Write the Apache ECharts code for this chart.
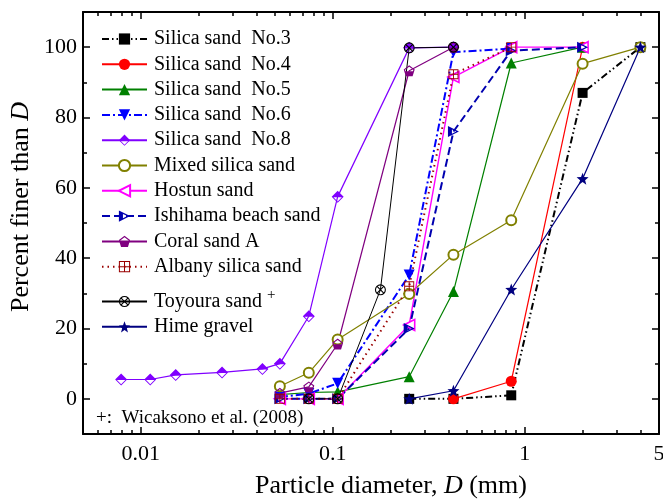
<!DOCTYPE html>
<html><head><meta charset="utf-8">
<script src="https://cdn.jsdelivr.net/npm/echarts@6/dist/echarts.min.js"></script>
<style>html,body{margin:0;padding:0;background:#fff}#c{width:663px;height:500px}</style>
</head><body><div id="c"></div>
<script>
// ---------- DATA ----------
const seriesNames = ['Silica sand  No.3','Silica sand  No.4','Silica sand  No.5','Silica sand  No.6','Silica sand  No.8',
  'Mixed silica sand','Hostun sand','Ishihama beach sand','Coral sand A','Albany silica sand','Toyoura sand','Hime gravel'];
const dNo3 = [0.25, 0.425, 0.85, 2, 4];
const pNo3 = [0, 0, 1, 87, 100];
const dNo4 = [0.425, 0.85, 2];
const pNo4 = [0, 5, 100];
const dNo5 = [0.053, 0.075, 0.106, 0.25, 0.425, 0.85, 2];
const pNo5 = [1.2, 1.8, 2, 6.3, 30.5, 95.5, 100];
const dNo6 = [0.053, 0.075, 0.106, 0.25, 0.425, 0.85];
const pNo6 = [0.5, 1.5, 4.4, 35.2, 98.6, 99.6];
const dNo8 = [0.0079, 0.0112, 0.0152, 0.0265, 0.043, 0.053, 0.075, 0.106, 0.25, 0.425];
const pNo8 = [5.5, 5.5, 6.8, 7.5, 8.5, 10, 23.5, 57.5, 99.8, 100];
const dMixed = [0.053, 0.075, 0.106, 0.25, 0.425, 0.85, 2, 4];
const pMixed = [3.6, 7.4, 16.9, 29.8, 41, 50.8, 95.3, 100];
const dHostun = [0.053, 0.075, 0.106, 0.25, 0.425, 0.85, 2];
const pHostun = [0, 0, 0, 21, 91.5, 100, 100];
const dIshihama = [0.053, 0.075, 0.106, 0.25, 0.425, 0.85, 2];
const pIshihama = [0, 0, 0, 20, 76, 99, 100];
const dCoral = [0.053, 0.075, 0.106, 0.25, 0.425];
const pCoral = [1.6, 3.4, 15.6, 93.3, 100];
const dAlbany = [0.053, 0.075, 0.106, 0.25, 0.425, 0.85];
const pAlbany = [0, 0, 0, 32, 92.3, 100];
const dToyoura = [0.075, 0.106, 0.177, 0.25, 0.425];
const pToyoura = [0, 0, 31, 99.8, 100];
const dHime = [0.25, 0.425, 0.85, 2, 4];
const pHime = [0, 2.3, 31.1, 62.6, 100];

const xLabelValues = [0.01, 0.1, 1, 5];
const xMajorTicks = [0.01, 0.1, 1];
const xMinorTicks = [0.006,0.007,0.008,0.009,0.02,0.03,0.04,0.05,0.06,0.07,0.08,0.09,0.2,0.3,0.4,0.5,0.6,0.7,0.8,0.9,2,3,4];
const yMajorTicks = [0, 20, 40, 60, 80, 100];
const yMinorTicks = [10, 30, 50, 70, 90];

// ---------- SYMBOLS ----------
const P = pts => pts.map((p,i)=>(i?'L':'M')+p[0]+','+p[1]).join('')+'Z';
const symDiamondHalf = 'path://' + P([[0,-10],[10,0],[0,10],[-10,0]]) + P([[-7,1],[0,8],[7,1]]);
const symPentHalf = 'path://' + P([[0,-10],[9.51,-3.09],[5.88,8.09],[-5.88,8.09],[-9.51,-3.09]]) +
  P([[0,-7.6],[-7.2,-2.4],[-6.5,-0.3],[6.5,-0.3],[7.2,-2.4]]);
const symRightTri = 'path://' + P([[-8,-9],[10,0],[-8,9]]) + P([[-1.5,-3.5],[-1.5,3.5],[5.5,0]]);
const symLeftTri = 'path://' + P([[8,-9],[-10,0],[8,9]]);
const symDownTri = 'path://' + P([[-10,-9],[10,-9],[0,9]]);
const sq = (x0,y0,x1,y1)=>P([[x0,y0],[x0,y1],[x1,y1],[x1,y0]]);
const symBoxPlus = 'path://' + P([[-10,-10],[10,-10],[10,10],[-10,10]]) +
  sq(-8.2,-8.2,-0.9,-0.9) + sq(0.9,-8.2,8.2,-0.9) + sq(-8.2,0.9,-0.9,8.2) + sq(0.9,0.9,8.2,8.2);
const circ = [];
for (let k=0;k<16;k++){const a=-Math.PI/2+k*Math.PI/8;circ.push([+(10*Math.cos(a)).toFixed(2),+(10*Math.sin(a)).toFixed(2)]);}
const wedge = [[0,-1.41],[4.9,-6.31],[2.6,-7.57],[0,-8],[-2.6,-7.57],[-4.9,-6.31]];
const rot = pts => pts.map(p=>[+(-p[1]).toFixed(2), p[0]]);
const w2 = rot(wedge), w3 = rot(w2), w4 = rot(w3);
const symCircleX = 'path://' + P(circ) + P(wedge) + P(w2) + P(w3) + P(w4);
const starPts = [];
for (let k=0;k<10;k++){const a=-Math.PI/2+k*Math.PI/5;const r=k%2?4.2:10;starPts.push([+(r*Math.cos(a)).toFixed(2),+(r*Math.sin(a)).toFixed(2)]);}
const symStar = 'path://' + P(starPts);

// ---------- SERIES ----------
const FONT = 'Liberation Serif';
const zip = (d,p)=>d.map((v,i)=>[v,p[i]]);
function S(name, d, p, color, sym, lineType, lw, itemStyle, size){
  return {
    name, type:'line', data: zip(d,p), symbol: sym, symbolSize: size || 11,
    lineStyle:{color, width: lw, type: lineType},
    itemStyle: Object.assign({color}, itemStyle || {}),
    emphasis:{disabled:true}, animation:false, clip:false, z: 3
  };
}
const series = [
  S(seriesNames[0], dNo3, pNo3, '#000000', 'rect', [7,3,1.5,3,1.5,3], 2, null, 10),
  S(seriesNames[1], dNo4, pNo4, '#FF0000', 'circle', 'solid', 1.2, null, 11),
  S(seriesNames[2], dNo5, pNo5, '#008000', 'triangle', 'solid', 1.2, null, 11),
  S(seriesNames[3], dNo6, pNo6, '#0000FF', symDownTri, [8,3,2,3], 2, null, 11),
  S(seriesNames[4], dNo8, pNo8, '#8000FF', symDiamondHalf, 'solid', 1.2, null, 12),
  S(seriesNames[5], dMixed, pMixed, '#808000', 'emptyCircle', 'solid', 1.2, {borderWidth:1.6}, 10),
  S(seriesNames[6], dHostun, pHostun, '#FF00FF', symLeftTri, 'solid', 1.4, {color:'#ffffff', borderColor:'#FF00FF', borderWidth:1.6}, 11),
  S(seriesNames[7], dIshihama, pIshihama, '#0000B0', symRightTri, [8,4], 2, null, 11),
  S(seriesNames[8], dCoral, pCoral, '#800080', symPentHalf, 'solid', 1.2, null, 11),
  S(seriesNames[9], dAlbany, pAlbany, '#990000', symBoxPlus, [1.5,4], 2, null, 10),
  S(seriesNames[10], dToyoura, pToyoura, '#000000', symCircleX, 'solid', 1, null, 11),
  S(seriesNames[11], dHime, pHime, '#000080', symStar, 'solid', 1.2, null, 12)
];
series[1].lineStyle.color = '#FF0000';
series[6].lineStyle.color = '#FF00FF';

// ---------- AXES ----------
const fmtX = v => String(+(+v).toPrecision(2));
function xAx(pos, ticks, len, labels, showLine){
  return { type:'log', logBase:10, min:0.005, max:5, position:pos,
    axisLine:{show:showLine, onZero:false, lineStyle:{color:'#000', width:2}},
    axisTick:{show:true, inside:true, length:len, customValues:ticks, lineStyle:{color:'#000', width:1.5}},
    axisLabel: labels ? {show:true, customValues:labels, formatter:fmtX, margin:9, color:'#000', fontFamily:FONT, fontSize:22} : {show:false},
    splitLine:{show:false}, minorTick:{show:false}, minorSplitLine:{show:false} };
}
function yAx(pos, ticks, len, labels, showLine){
  return { type:'value', min:-10, max:110, position:pos,
    axisLine:{show:showLine, onZero:false, lineStyle:{color:'#000', width:2}},
    axisTick:{show:true, inside:true, length:len, customValues:ticks, lineStyle:{color:'#000', width:1.5}},
    axisLabel: labels ? {show:true, customValues:labels, margin:6, color:'#000', fontFamily:FONT, fontSize:22} : {show:false},
    splitLine:{show:false}, minorTick:{show:false}, minorSplitLine:{show:false} };
}

const legendText = {fontFamily:FONT, fontSize:20, color:'#000', padding:[0,0,0,2],
  rich:{s:{fontFamily:FONT, fontSize:15, color:'#000', verticalAlign:'bottom', padding:[0,0,12,0]}}};
const option = {
  backgroundColor:'#ffffff',
  animation:false,
  grid:{left:83, right:4, top:12, bottom:66, containLabel:false, outerBoundsMode:'none'},
  xAxis:[ xAx('bottom', xMajorTicks, 7, xLabelValues, true), xAx('bottom', xMinorTicks, 4, null, false),
          xAx('top', xMajorTicks, 7, null, true), xAx('top', xMinorTicks, 4, null, false) ],
  yAxis:[ yAx('left', yMajorTicks, 7, yMajorTicks, true), yAx('left', yMinorTicks, 4, null, false),
          yAx('right', yMajorTicks, 7, null, true), yAx('right', yMinorTicks, 4, null, false) ],
  legend:[
    {data: seriesNames.slice(0,10), orient:'vertical', left:101, top:29, padding:0, itemWidth:45, itemHeight:14,
     itemGap:5.3, selectedMode:false, textStyle:legendText},
    {data: seriesNames.slice(10), orient:'vertical', left:101, top:288, padding:0, itemWidth:45, itemHeight:14,
     itemGap:5.3, selectedMode:false, textStyle:legendText,
     formatter: n => n === 'Toyoura sand' ? 'Toyoura sand {s|+}' : n}
  ],
  graphic:[
    {type:'text', left:96, top:409, style:{text:'+:  Wicaksono et al. (2008)', fontFamily:FONT, fontSize:19, fill:'#000'}},
    {type:'text', x:391, y:486, style:{text:'Particle diameter, {i|D} (mm)', fontFamily:FONT, fontSize:26, fill:'#000',
      align:'center', verticalAlign:'middle', rich:{i:{fontFamily:FONT, fontSize:26, fontStyle:'italic', fill:'#000'}}}},
    {type:'text', x:21, y:207, rotation:Math.PI/2, style:{text:'Percent finer than {i|D}', fontFamily:FONT, fontSize:26, fill:'#000',
      align:'center', verticalAlign:'middle', rich:{i:{fontFamily:FONT, fontSize:26, fontStyle:'italic', fill:'#000'}}}}
  ],
  series
};
const chart = echarts.init(document.getElementById('c'), null, {renderer:'canvas'});
chart.setOption(option);
</script></body></html>
